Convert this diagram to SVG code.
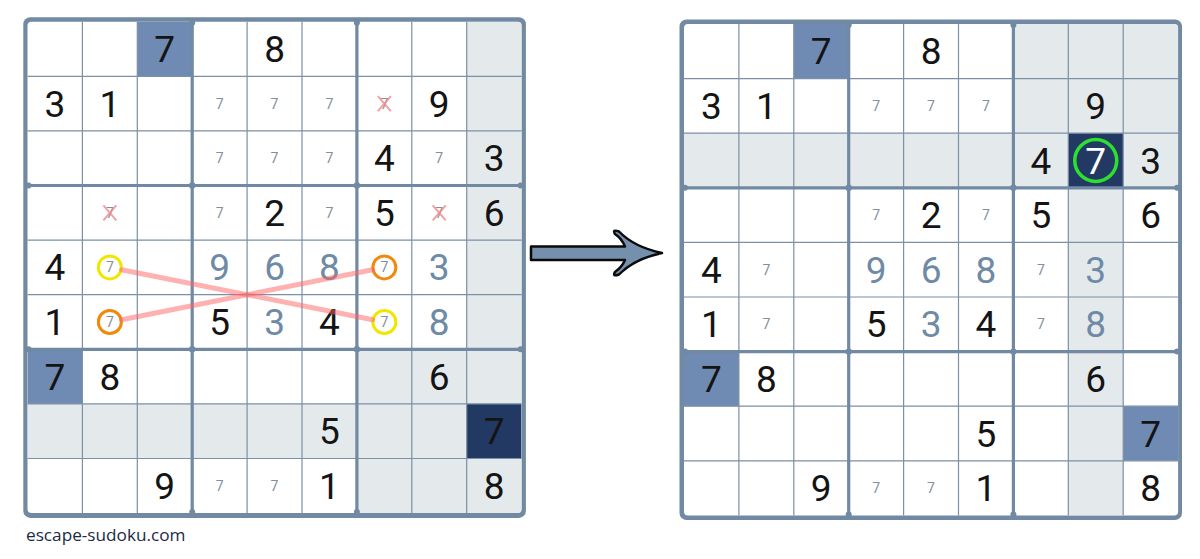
<svg xmlns="http://www.w3.org/2000/svg" width="1200" height="559" viewBox="0 0 1200 559">
<defs>
<style>
.frame{fill:#7189a3}
.inner{fill:#ffffff}
.g{fill:#e4e9ec}
.b{fill:#6f8ab3}
.n{fill:#223a63}
.thin{stroke:#7c90a6;stroke-width:1.2;fill:none}
.thick{stroke:#7189a3;stroke-width:3.2;fill:none}
.dot{fill:#7189a3}
.d{font-family:Roboto,"Liberation Sans",sans-serif;font-size:37px;text-anchor:middle;fill:#141414}
.s{font-family:Roboto,"Liberation Sans",sans-serif;font-size:37px;text-anchor:middle;fill:#6f8aa6}
.w{font-family:Roboto,"Liberation Sans",sans-serif;font-size:37px;text-anchor:middle;fill:#ffffff}
.p{font-family:Roboto,"Liberation Sans",sans-serif;font-size:14px;text-anchor:middle;fill:#858f9a}
.x{stroke:#f08a8a;stroke-width:2;opacity:0.8}
.cy{fill:none;stroke:#f2e600;stroke-width:3}
.co{fill:none;stroke:#f08a0a;stroke-width:3}
.link{stroke:#f66;stroke-width:5;stroke-linecap:round;opacity:0.5}
</style>
<clipPath id="clipInner"><rect x="0" y="0" width="494.1" height="491.4" rx="4"/></clipPath>
<g id="gridlines">
<path class="thin" d="M54.9,0V491.4M109.8,0V491.4M219.6,0V491.4M274.5,0V491.4M384.3,0V491.4M439.2,0V491.4M0,54.6H494.1M0,109.2H494.1M0,218.4H494.1M0,273H494.1M0,382.2H494.1M0,436.8H494.1"/>
<path class="thick" d="M164.7,0V491.4M329.4,0V491.4M0,163.8H494.1M0,327.6H494.1"/>
<circle class="dot" cx="164.7" cy="163.8" r="3.2"/><circle class="dot" cx="329.4" cy="163.8" r="3.2"/>
<circle class="dot" cx="164.7" cy="327.6" r="3.2"/><circle class="dot" cx="329.4" cy="327.6" r="3.2"/>
<circle class="dot" cx="164.7" cy="1" r="3"/><circle class="dot" cx="329.4" cy="1" r="3"/>
<circle class="dot" cx="164.7" cy="490.4" r="3"/><circle class="dot" cx="329.4" cy="490.4" r="3"/>
<circle class="dot" cx="1" cy="163.8" r="3"/><circle class="dot" cx="1" cy="327.6" r="3"/>
<circle class="dot" cx="493.1" cy="163.8" r="3"/><circle class="dot" cx="493.1" cy="327.6" r="3"/>
</g>
</defs>

<g id="grid-left">
<rect class="frame" x="23.3" y="17.3" width="502.6" height="500.6" rx="7"/>
<g transform="translate(27.5,21.7)">
<rect class="inner" x="0" y="0" width="494.1" height="491.4" rx="4"/>
<g clip-path="url(#clipInner)">
<rect class="g" x="439.2" y="0" width="54.9" height="382.2"/>
<rect class="g" x="329.4" y="327.6" width="164.7" height="163.8"/>
<rect class="g" x="0" y="382.2" width="494.1" height="54.6"/>
<rect class="b" x="109.8" y="0" width="54.9" height="54.6"/>
<rect class="b" x="0" y="327.6" width="54.9" height="54.6"/>
<rect class="n" x="439.2" y="382.2" width="54.9" height="54.6"/>
</g>
<use href="#gridlines"/>
<text class="d" x="137.25" y="40.3">7</text>
<text class="d" x="247.05" y="40.3">8</text>
<text class="d" x="27.45" y="94.9">3</text>
<text class="d" x="82.35" y="94.9">1</text>
<text class="d" x="411.75" y="94.9">9</text>
<text class="d" x="356.85" y="149.5">4</text>
<text class="d" x="466.65" y="149.5">3</text>
<text class="d" x="247.05" y="204.1">2</text>
<text class="d" x="356.85" y="204.1">5</text>
<text class="d" x="466.65" y="204.1">6</text>
<text class="d" x="27.45" y="258.7">4</text>
<text class="s" x="192.15" y="258.7">9</text>
<text class="s" x="247.05" y="258.7">6</text>
<text class="s" x="301.95" y="258.7">8</text>
<text class="s" x="411.75" y="258.7">3</text>
<text class="d" x="27.45" y="313.3">1</text>
<text class="d" x="192.15" y="313.3">5</text>
<text class="s" x="247.05" y="313.3">3</text>
<text class="d" x="301.95" y="313.3">4</text>
<text class="s" x="411.75" y="313.3">8</text>
<text class="d" x="27.45" y="367.9">7</text>
<text class="d" x="82.35" y="367.9">8</text>
<text class="d" x="411.75" y="367.9">6</text>
<text class="d" x="301.95" y="422.5">5</text>
<text class="d" x="466.65" y="422.5">7</text>
<text class="d" x="137.25" y="477.1">9</text>
<text class="d" x="301.95" y="477.1">1</text>
<text class="d" x="466.65" y="477.1">8</text>
<text class="p" x="192.15" y="86.9">7</text>
<text class="p" x="247.05" y="86.9">7</text>
<text class="p" x="301.95" y="86.9">7</text>
<text class="p" x="356.85" y="86.9">7</text>
<text class="p" x="192.15" y="141.5">7</text>
<text class="p" x="247.05" y="141.5">7</text>
<text class="p" x="301.95" y="141.5">7</text>
<text class="p" x="411.75" y="141.5">7</text>
<text class="p" x="82.35" y="196.1">7</text>
<text class="p" x="192.15" y="196.1">7</text>
<text class="p" x="301.95" y="196.1">7</text>
<text class="p" x="411.75" y="196.1">7</text>
<text class="p" x="82.35" y="250.7">7</text>
<text class="p" x="356.85" y="250.7">7</text>
<text class="p" x="82.35" y="305.3">7</text>
<text class="p" x="356.85" y="305.3">7</text>
<text class="p" x="192.15" y="469.1">7</text>
<text class="p" x="247.05" y="469.1">7</text>
<path class="x" d="M350.35,74.4L363.35,89.4M363.35,74.4L350.35,89.4"/>
<path class="x" d="M75.85,183.6L88.85,198.6M88.85,183.6L75.85,198.6"/>
<path class="x" d="M405.25,183.6L418.25,198.6M418.25,183.6L405.25,198.6"/>
<circle class="cy" cx="82.35" cy="245.7" r="11.5"/>
<circle class="co" cx="356.85" cy="245.7" r="11.5"/>
<circle class="co" cx="82.35" cy="300.3" r="11.5"/>
<circle class="cy" cx="356.85" cy="300.3" r="11.5"/>
</g>
</g>

<g id="connectors" transform="translate(27.5,21.7)">
<line class="link" x1="94.1" y1="248" x2="345.1" y2="298"/>
<line class="link" x1="94.1" y1="298" x2="345.1" y2="248"/>
</g>

<g id="arrow">
<path d="M531,246.5 L625,246.5 Q622,239 615,234 Q612,229 619,231.5 Q634,247 662,253 Q634,259 619,274.5 Q612,277 615,272 Q622,267 625,260 L531,260 Z" fill="#7590ad" stroke="#0a0a0a" stroke-width="2.5" stroke-linejoin="round"/>
</g>

<g id="grid-right">
<rect class="frame" x="679.5" y="19.5" width="502.5" height="500.5" rx="7"/>
<g transform="translate(684,24)">
<rect class="inner" x="0" y="0" width="494.1" height="491.4" rx="4"/>
<g clip-path="url(#clipInner)">
<rect class="g" x="0" y="109.2" width="494.1" height="54.6"/>
<rect class="g" x="329.4" y="0" width="164.7" height="163.8"/>
<rect class="g" x="384.3" y="0" width="54.9" height="491.4"/>
<rect class="b" x="109.8" y="0" width="54.9" height="54.6"/>
<rect class="b" x="0" y="327.6" width="54.9" height="54.6"/>
<rect class="b" x="439.2" y="382.2" width="54.9" height="54.6"/>
<rect class="n" x="384.3" y="109.2" width="54.9" height="54.6"/>
</g>
<use href="#gridlines"/>
<text class="d" x="137.25" y="40.3">7</text>
<text class="d" x="247.05" y="40.3">8</text>
<text class="d" x="27.45" y="94.9">3</text>
<text class="d" x="82.35" y="94.9">1</text>
<text class="d" x="411.75" y="94.9">9</text>
<text class="d" x="356.85" y="149.5">4</text>
<text class="w" x="411.75" y="149.5">7</text>
<text class="d" x="466.65" y="149.5">3</text>
<text class="d" x="247.05" y="204.1">2</text>
<text class="d" x="356.85" y="204.1">5</text>
<text class="d" x="466.65" y="204.1">6</text>
<text class="d" x="27.45" y="258.7">4</text>
<text class="s" x="192.15" y="258.7">9</text>
<text class="s" x="247.05" y="258.7">6</text>
<text class="s" x="301.95" y="258.7">8</text>
<text class="s" x="411.75" y="258.7">3</text>
<text class="d" x="27.45" y="313.3">1</text>
<text class="d" x="192.15" y="313.3">5</text>
<text class="s" x="247.05" y="313.3">3</text>
<text class="d" x="301.95" y="313.3">4</text>
<text class="s" x="411.75" y="313.3">8</text>
<text class="d" x="27.45" y="367.9">7</text>
<text class="d" x="82.35" y="367.9">8</text>
<text class="d" x="411.75" y="367.9">6</text>
<text class="d" x="301.95" y="422.5">5</text>
<text class="d" x="466.65" y="422.5">7</text>
<text class="d" x="137.25" y="477.1">9</text>
<text class="d" x="301.95" y="477.1">1</text>
<text class="d" x="466.65" y="477.1">8</text>
<text class="p" x="192.15" y="86.9">7</text>
<text class="p" x="247.05" y="86.9">7</text>
<text class="p" x="301.95" y="86.9">7</text>
<text class="p" x="192.15" y="196.1">7</text>
<text class="p" x="301.95" y="196.1">7</text>
<text class="p" x="82.35" y="250.7">7</text>
<text class="p" x="356.85" y="250.7">7</text>
<text class="p" x="82.35" y="305.3">7</text>
<text class="p" x="356.85" y="305.3">7</text>
<text class="p" x="192.15" y="469.1">7</text>
<text class="p" x="247.05" y="469.1">7</text>
<circle cx="411.75" cy="136.5" r="21" fill="none" stroke="#2ee02e" stroke-width="3.5"/>
</g>
</g>

<text id="watermark" x="26" y="541" font-family="'Open Sans','Noto Sans',sans-serif" font-size="17.2" fill="#1c2b45">escape-sudoku.com</text>
</svg>
